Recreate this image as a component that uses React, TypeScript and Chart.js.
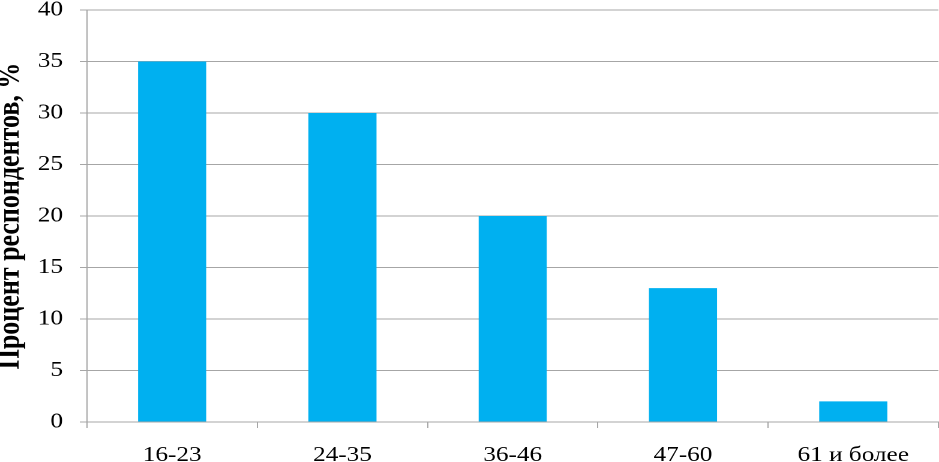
import React, { useEffect, useRef } from "react";
import { Chart, registerables } from "chart.js";

Chart.register(...registerables);

const categories = ["16-23", "24-35", "36-46", "47-60", "61 и более"];
const values = [35, 30, 20, 13, 2];
const yMin = 0;
const yMax = 40;
const yStep = 5;
const yTitle = "Процент респондентов, %";

const STRETCH = 1.2;
const W = 939;
const H = 462;
const LW = Math.round(W / STRETCH);

export default function App() {
  const ref = useRef<HTMLCanvasElement | null>(null);
  useEffect(() => {
    if (!ref.current) return;
    const font = "'Liberation Serif', 'Times New Roman', serif";
    const chart = new Chart(ref.current, {
      type: "bar",
      data: {
        labels: categories,
        datasets: [
          {
            data: values,
            backgroundColor: "#00B0F0",
            borderWidth: 0,
            categoryPercentage: 1,
            barPercentage: 0.4,
          },
        ],
      },
      options: {
        responsive: false,
        animation: false,
        devicePixelRatio: 2,
        layout: { padding: { top: 10, right: 1, bottom: 0, left: 0 } },
        plugins: { legend: { display: false }, tooltip: { enabled: false } },
        scales: {
          x: {
            grid: {
              offset: true,
              drawOnChartArea: false,
              drawTicks: true,
              tickLength: 6,
              color: "#a6a6a6",
            },
            border: { color: "#a6a6a6" },
            ticks: {
              color: "#000",
              font: { family: font, size: 21 },
              padding: 15,
              maxRotation: 0,
              autoSkip: false,
            },
            afterFit: (s: any) => {
              s.height = 40;
              s.paddingLeft = 0;
              s.paddingRight = 0;
            },
          },
          y: {
            min: yMin,
            max: yMax,
            ticks: {
              stepSize: yStep,
              color: "#000",
              font: { family: font, size: 21 },
              padding: 14,
            },
            grid: {
              color: "#a6a6a6",
              tickLength: 6,
              drawTicks: true,
            },
            border: { color: "#a6a6a6" },
            title: {
              display: true,
              text: yTitle,
              color: "#000",
              font: { family: font, size: 26, weight: "bold", lineHeight: 1 },
              padding: { top: -4, bottom: 0 },
            },
            afterFit: (s: any) => {
              s.width = 72.5;
              s.paddingTop = 0;
              s.paddingBottom = 0;
            },
          },
        },
      },
    });
    return () => chart.destroy();
  }, []);
  return (
    <div
      style={{
        position: "fixed",
        left: 0,
        top: 0,
        width: W,
        height: H,
        background: "#fff",
        overflow: "hidden",
      }}
    >
      <canvas
        ref={ref}
        width={LW}
        height={H}
        style={{
          width: LW,
          height: H,
          transform: `scaleX(${STRETCH})`,
          transformOrigin: "0 0",
          display: "block",
        }}
      />
    </div>
  );
}
